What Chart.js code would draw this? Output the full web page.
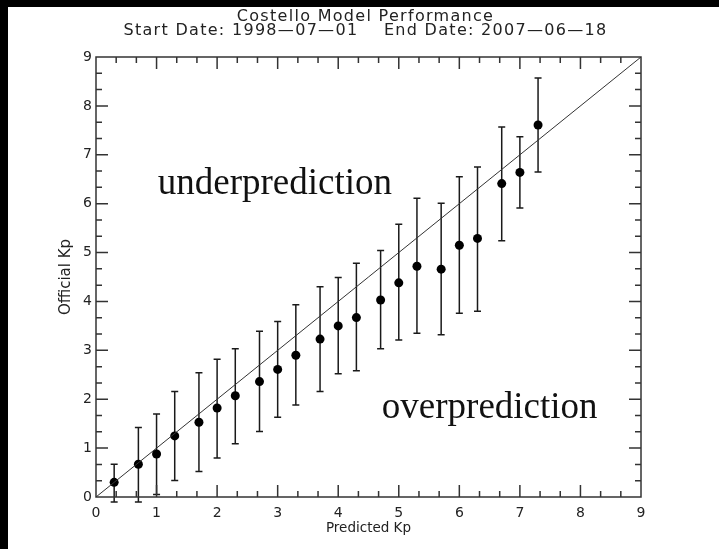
<!DOCTYPE html>
<html>
<head>
<meta charset="utf-8">
<title>Costello Model Performance</title>
<script src="https://cdn.jsdelivr.net/npm/chart.js@4.4.1/dist/chart.umd.min.js"></script>
<style>
    html, body { margin: 0; padding: 0; background: #000; }
    body { width: 719px; height: 549px; overflow: hidden; position: relative; }
    #kpChart { position: absolute; left: 8px; top: 7px; background: #fff; }
</style>
</head>
<body>
<canvas id="kpChart" width="711" height="542"></canvas>
<script>
// binned predicted Kp vs. mean official Kp, with spread of each bin
const predictedKp = [0.3, 0.7, 1.0, 1.3, 1.7, 2.0, 2.3, 2.7, 3.0, 3.3, 3.7, 4.0, 4.3, 4.7, 5.0, 5.3, 5.7, 6.0, 6.3, 6.7, 7.0, 7.3];
const officialMean = [0.30, 0.67, 0.88, 1.25, 1.53, 1.82, 2.07, 2.36, 2.61, 2.90, 3.23, 3.50, 3.67, 4.03, 4.38, 4.72, 4.66, 5.15, 5.29, 6.41, 6.64, 7.61];
const officialHigh = [0.67, 1.42, 1.70, 2.16, 2.54, 2.82, 3.03, 3.39, 3.59, 3.93, 4.30, 4.49, 4.78, 5.04, 5.58, 6.11, 6.01, 6.55, 6.75, 7.57, 7.37, 8.57];
const officialLow = [-0.10, -0.10, 0.05, 0.34, 0.52, 0.80, 1.09, 1.34, 1.63, 1.88, 2.16, 2.52, 2.58, 3.03, 3.21, 3.35, 3.32, 3.76, 3.80, 5.24, 5.91, 6.65];
const kpRange = [0, 9];
const perfectLine = [0, 9];

const titleLines = ['Costello Model Performance', 'Start Date: 1998\u201407\u201401    End Date: 2007\u201406\u201418'];

const ink = '#222';
const sansFont = 'DejaVu Sans';

// region labels, placed in data units
const regionLabels = [
    { text: 'underprediction', x: 1.02, y: 6.2 },
    { text: 'overprediction', x: 4.72, y: 1.62 }
];

// two-line heading, drawn wide and spaced like the old plotting font
const pageTitle = {
    id: 'pageTitle',
    afterDraw(chart) {
        const { ctx } = chart;
        ctx.save();
        ctx.fillStyle = ink;
        ctx.font = `16px "${sansFont}"`;
        ctx.letterSpacing = '1.3px';
        ctx.textAlign = 'center';
        ctx.textBaseline = 'alphabetic';
        const cx = chart.width / 2 + 2;
        titleLines.forEach((line, i) => ctx.fillText(line, cx, 13.5 + i * 14));
        ctx.restore();
    }
};

const errorBars = {
    id: 'errorBars',
    beforeDatasetsDraw(chart) {
        const { ctx, scales: { x, y } } = chart;
        ctx.save();
        ctx.strokeStyle = '#1a1a1a';
        ctx.lineWidth = 1.5;
        predictedKp.forEach((kp, i) => {
            const px = x.getPixelForValue(kp);
            const top = y.getPixelForValue(officialHigh[i]);
            const bot = y.getPixelForValue(officialLow[i]);
            ctx.beginPath();
            ctx.moveTo(px, top);
            ctx.lineTo(px, bot);
            ctx.moveTo(px - 3.5, top);
            ctx.lineTo(px + 3.5, top);
            ctx.moveTo(px - 3.5, bot);
            ctx.lineTo(px + 3.5, bot);
            ctx.stroke();
        });
        ctx.restore();
    }
};

// box around the plot with inward major/minor ticks on all four sides
const frameTicks = {
    id: 'frameTicks',
    afterDraw(chart) {
        const { ctx, chartArea: a, scales: { x, y } } = chart;
        ctx.save();
        ctx.strokeStyle = '#333';
        ctx.lineWidth = 1.5;
        ctx.strokeRect(a.left, a.top, a.right - a.left, a.bottom - a.top);
        ctx.beginPath();
        for (let k = 1; k < 27; k++) {
            const v = k / 3;
            const len = k % 3 === 0 ? 12 : 6;
            const px = x.getPixelForValue(v);
            const py = y.getPixelForValue(v);
            ctx.moveTo(px, a.bottom); ctx.lineTo(px, a.bottom - len);
            ctx.moveTo(px, a.top); ctx.lineTo(px, a.top + len);
            ctx.moveTo(a.left, py); ctx.lineTo(a.left + len, py);
            ctx.moveTo(a.right, py); ctx.lineTo(a.right - len, py);
        }
        ctx.stroke();

        ctx.fillStyle = '#111';
        ctx.font = '37px "Liberation Serif"';
        ctx.textBaseline = 'alphabetic';
        ctx.textAlign = 'left';
        regionLabels.forEach((lbl) => {
            ctx.fillText(lbl.text, x.getPixelForValue(lbl.x), y.getPixelForValue(lbl.y));
        });
        ctx.restore();
    }
};

new Chart(document.getElementById('kpChart'), {
    type: 'scatter',
    data: {
        datasets: [
            {
                data: perfectLine.map((v) => ({ x: v, y: v })),
                showLine: true,
                borderColor: '#333',
                borderWidth: 1,
                pointRadius: 0
            },
            {
                data: predictedKp.map((kp, i) => ({ x: kp, y: officialMean[i] })),
                pointRadius: 4.5,
                pointBackgroundColor: '#000',
                pointBorderWidth: 0
            }
        ]
    },
    options: {
        responsive: false,
        devicePixelRatio: 1,
        animation: false,
        layout: { padding: { top: 50 } },
        plugins: {
            legend: { display: false },
            tooltip: { enabled: false },
            title: { display: false }
        },
        scales: {
            x: {
                type: 'linear',
                min: kpRange[0],
                max: kpRange[1],
                afterFit: (scale) => { scale.height = 52; },
                grid: { display: false, drawTicks: false },
                border: { display: false },
                ticks: { stepSize: 1, padding: 8, color: ink, font: { family: sansFont, size: 14 } },
                title: {
                    display: true,
                    text: 'Predicted Kp',
                    color: ink,
                    font: { family: sansFont, size: 13.5 },
                    padding: { top: 0, bottom: 12 }
                }
            },
            y: {
                type: 'linear',
                min: kpRange[0],
                max: kpRange[1],
                afterFit: (scale) => { scale.width = 88; },
                grid: { display: false, drawTicks: false },
                border: { display: false },
                ticks: { stepSize: 1, padding: 4, color: ink, font: { family: sansFont, size: 14 } },
                title: {
                    display: true,
                    text: 'Official Kp',
                    color: ink,
                    font: { family: sansFont, size: 15 },
                    padding: { top: 49, bottom: 0 }
                }
            },
            // empty margin on the right of the plot box
            yRight: {
                position: 'right',
                min: kpRange[0],
                max: kpRange[1],
                afterFit: (scale) => { scale.width = 78; },
                grid: { display: false, drawTicks: false },
                border: { display: false },
                ticks: { display: false }
            }
        }
    },
    plugins: [errorBars, frameTicks, pageTitle]
});
</script>
</body>
</html>
